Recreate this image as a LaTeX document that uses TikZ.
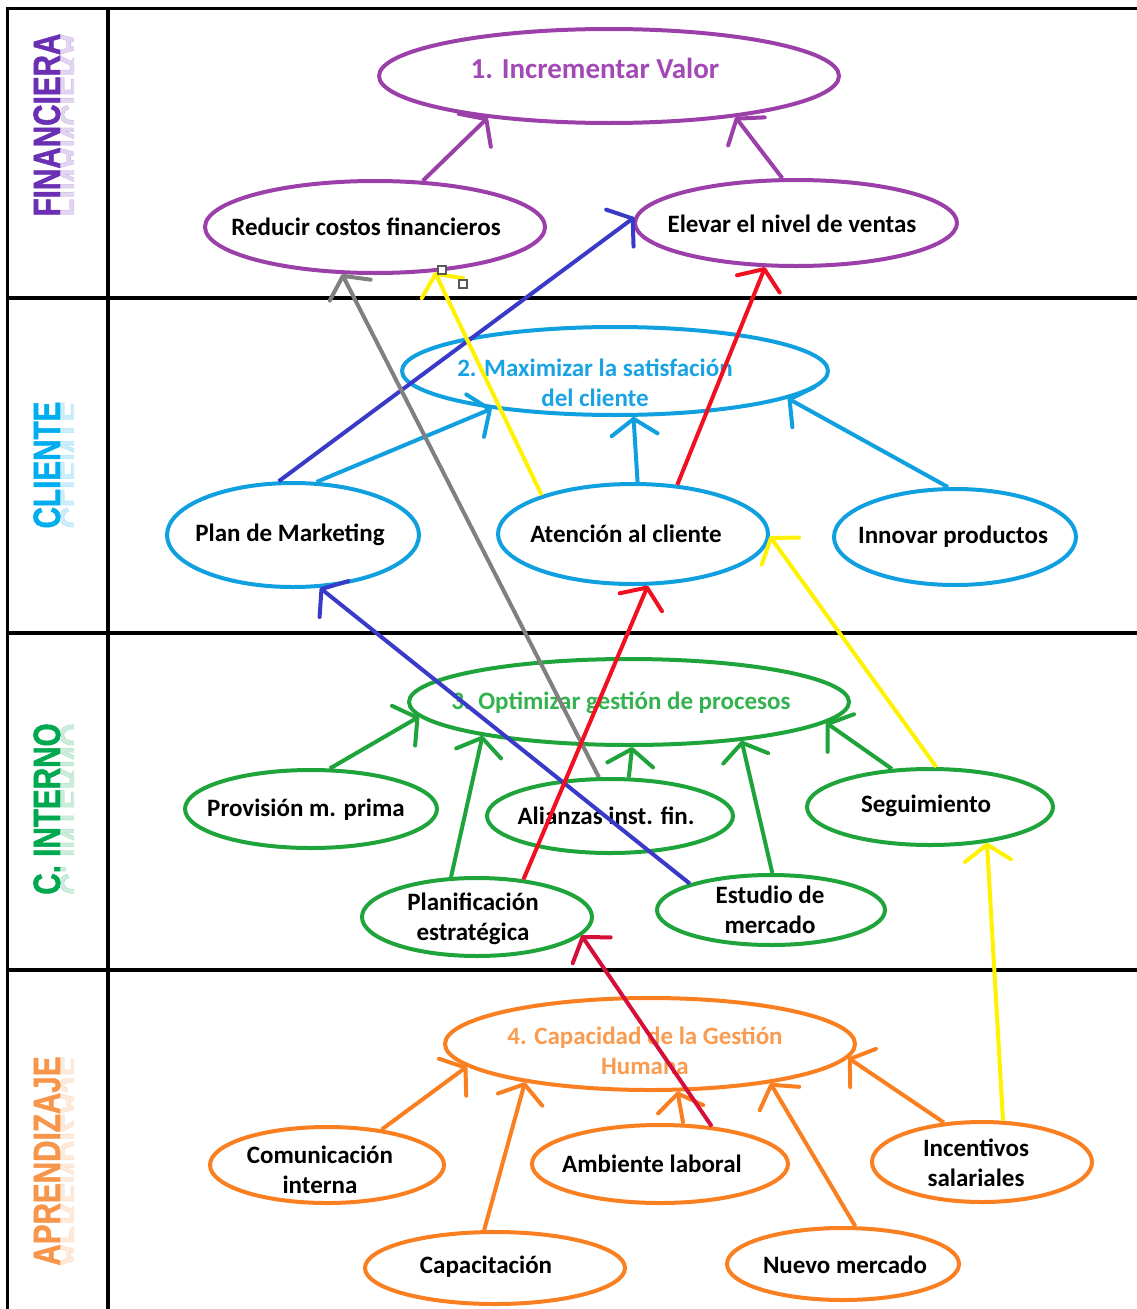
\documentclass[tikz,border=0pt]{standalone}
\usepackage{fontspec}
\setmainfont{Carlito}
\newfontfamily\sidefont{Liberation Sans}[BoldFeatures={FakeBold=1.6}]
\usetikzlibrary{arrows.meta,shapes.geometric}

% palette
\definecolor{purpleC}{HTML}{9B3FA9}
\definecolor{purpleT}{HTML}{A349B5}
\definecolor{cyanC}{HTML}{10A0E0}
\definecolor{cyanT}{HTML}{1AA3E3}
\definecolor{greenC}{HTML}{1EA43A}
\definecolor{greenT}{HTML}{33B24D}
\definecolor{orangeC}{HTML}{FA7F20}
\definecolor{orangeT}{HTML}{F99B50}
\definecolor{blueL}{HTML}{3A3AC8}
\definecolor{grayL}{HTML}{808080}
\definecolor{yellowL}{HTML}{FFF200}
\definecolor{redL}{HTML}{F01020}
\definecolor{crimsonL}{HTML}{D4103A}
\definecolor{finC}{HTML}{6B2FB3}
\definecolor{cliC}{HTML}{00AEEF}
\definecolor{intC}{HTML}{00A84F}
\definecolor{aprC}{HTML}{F7964A}

% rotated perspective label with a faint mirrored copy under its baseline
\newcommand\perspective[4]{%
  \node[sidelab, text=#2] (#4) at (60,#1) {#3};
  \begin{scope}
    \clip (61,#1-150) rectangle (74,#1+150);
    \node[sidelab, yscale=-1, text=#2, opacity=0.2] (#4r) at (60,#1) {#3};
  \end{scope}}

% objective: ellipse #1 of colour #2 at #3, axes #4 x #5,
% text #7 in style #6, set off by #8 from the centre
\newcommand\goal[8]{%
  \node[oval=#2, minimum width=#4pt, minimum height=#5pt] (#1) at (#3) {};
  \node[txt, #6] (#1-t) at ([shift={(#8)}]#1.center) {#7};}

\begin{document}
\begin{tikzpicture}[x=1pt,y=-1pt,
  sidelab/.style={rotate=90, xscale=0.78, anchor=base, inner sep=0pt,
    font=\sidefont\bfseries\fontsize{38}{38}\selectfont},
  oval/.style={ellipse, draw=#1, line width=4pt, inner sep=0pt},
  txt/.style={inner sep=0pt, align=center, text=black,
    font=\bfseries\fontsize{25}{30}\selectfont},
  title/.style={text=#1, font=\bfseries\fontsize{25}{30}\selectfont},
  link/.style={draw=#1, line width=4pt,
    -{Straight Barb[length=16pt,width=46pt,round]}},
  handle/.style={rectangle, draw=black!65, fill=white, line width=1.2pt,
    minimum size=8pt, inner sep=0pt}]

\useasboundingbox (0,0) rectangle (1137,1309);
\fill[white] (0,0) rectangle (1137,1309);

% table grid
\draw[line width=3pt] (7,1309) -- (7,8) -- (1137,8);
\draw[line width=4pt] (108,8) -- (108,1309);
\foreach \yy in {298,633,970} \draw[line width=4pt] (7,\yy) -- (1137,\yy);

% perspective labels
\perspective{125}{finC}{FINANCIERA}{labFin}
\perspective{465}{cliC}{CLIENTE}{labCli}
\perspective{809}{intC}{C. INTERNO}{labInt}
\perspective{1161}{aprC}{APRENDIZAJE}{labApr}

% financial perspective
\goal{inc}{purpleC}{609,76}{460}{94}{title=purpleT, font=\bfseries\fontsize{29}{30}\selectfont}{1. Incrementar Valor}{-14,-8}
\goal{red}{purpleC}{375,227}{340}{92}{}{Reducir costos financieros}{-9,0}
\goal{ele}{purpleC}{796,223}{322}{86}{}{Elevar el nivel de ventas}{-4,1}

% customer perspective
\goal{max}{cyanC}{615,371}{426}{88}{title=cyanT}{2. Maximizar la satisfación\\del cliente}{-20,12}
\goal{plan}{cyanC}{293,535}{252}{104}{}{Plan de Marketing}{-3,0}
\goal{ate}{cyanC}{633,534}{270}{100}{}{Atención al cliente}{-7,0}
\goal{inn}{cyanC}{955,537}{242}{96}{}{Innovar productos}{-2,0}

% internal process perspective
\goal{opt}{greenC}{629,702}{440}{86}{title=greenT}{3. Optimizar gestión de procesos}{-8,1}
\goal{prov}{greenC}{311,809}{252}{78}{}{Provisión m. prima}{-5,1}
\goal{ali}{greenC}{610,816}{246}{74}{}{Alianzas inst. fin.}{-4,0}
\goal{seg}{greenC}{930,807}{246}{76}{}{Seguimiento}{-4,-1}
\goal{pla}{greenC}{477,917}{230}{78}{}{Planificación\\estratégica}{-4,2}
\goal{est}{greenC}{771,910}{228}{70}{}{Estudio de\\mercado}{-1,0}

% learning perspective
\goal{cap}{orangeC}{650,1044}{410}{92}{title=orangeT}{4. Capacidad de la Gestión\\Humana}{-5,7}
\goal{com}{orangeC}{327,1165}{234}{76}{}{Comunicación\\interna}{-7,5}
\goal{amb}{orangeC}{660,1164}{256}{78}{}{Ambiente laboral}{-8,0}
\goal{ince}{orangeC}{982,1162}{220}{80}{}{Incentivos\\salariales}{-6,1}
\goal{capa}{orangeC}{495,1268}{260}{72}{}{Capacitación}{-9,-1}
\goal{nue}{orangeC}{843,1264}{232}{72}{}{Nuevo mercado}{2,1}

% links inside each perspective
\draw[link=purpleC] (red.44) -- (inc.199);
\draw[link=purpleC] (ele.107) -- (inc.342);
\draw[link=cyanC] (plan.66) -- (max.197);
\draw[link=cyanC] (ate.85) -- (max.292);
\draw[link=cyanC] (inn.98) -- (max.351);
\draw[link=greenC] (prov.65) -- (opt.184);
\draw[link=greenC] (pla.123) -- (opt.193);
\draw[link=greenC] (ali.64) -- (opt.274);
\draw[link=greenC] (est.88) -- (opt.341);
\draw[link=greenC] (seg.135) -- (opt.354);
\draw[link=orangeC] (com.33) -- (cap.187);
\draw[link=orangeC] (capa.106) -- (cap.197);
\draw[link=orangeC] (amb.60) -- (cap.300);
\draw[link=orangeC] (nue.72) -- (cap.342);
\draw[link=orangeC] (ince.134) -- (cap.356);

% cause-effect links across perspectives
\draw[link=blueL] (plan.105) -- (ele.178);
\draw[link=blueL] (est.162) -- (plan.297);
\draw[link=grayL] (ali.106) -- (red.235);
\draw[link=yellowL] (ate.157) -- (red.323);
\draw[link=yellowL] (seg.81) -- (ate.359);
\draw[link=yellowL] (ince.63) -- (seg.328);
\draw[link=redL] (ate.48) -- (ele.235);
\draw[link=redL] (pla.39) -- (ate.286);
\draw[link=crimsonL] (amb.36) -- (pla.350);

% selection handles on the yellow link
\node[handle] (hA) at (442,270) {};
\node[handle] (hB) at (463,284) {};
\end{tikzpicture}
\end{document}
